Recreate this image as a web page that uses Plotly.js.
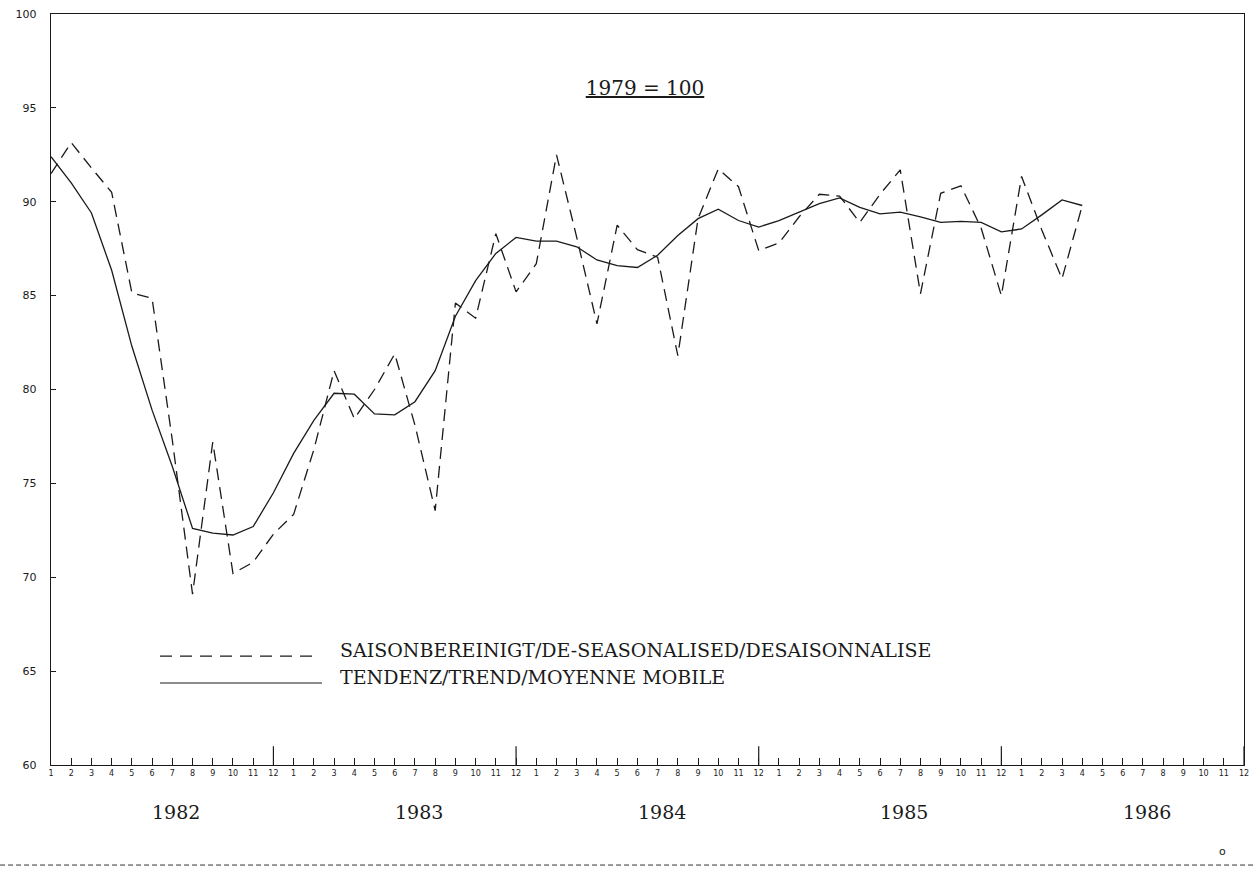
<!DOCTYPE html>
<html>
<head>
<meta charset="utf-8">
<script src="https://cdn.plot.ly/plotly-3.0.1.min.js"></script>
<style>
  html, body { margin: 0; padding: 0; background: #ffffff; }
  #chart { width: 1256px; height: 870px; }
</style>
</head>
<body>
<div id="chart"></div>
<script>
// Tick labels: months of each year 1982-1986
const years = ["1982", "1983", "1984", "1985", "1986"];
const monthLabels = ["1","2","3","4","5","6","7","8","9","10","11","12"];

// Seasonally adjusted series (Jan 1982 - Apr 1986), 1979 = 100
const saison = [
  91.5, 93.15, 91.8, 90.5, 85.15, 84.85, 77.3, 69.1, 77.2, 70.2, 70.8, 72.3,
  73.35, 76.8, 81.0, 78.45, 80.0, 81.9, 78.1, 73.55, 84.6, 83.8, 88.3, 85.2,
  86.7, 92.5, 88.1, 83.5, 88.75, 87.45, 87.05, 81.8, 89.1, 91.75, 90.8, 87.4,
  87.8, 89.2, 90.4, 90.3, 88.9, 90.4, 91.7, 85.1, 90.45, 90.85, 88.6, 85.0,
  91.35, 88.5, 85.9, 89.8
];

// Trend / moving average
const trend = [
  92.4, 91.0, 89.4, 86.35, 82.3, 78.9, 75.9, 72.6, 72.35, 72.25, 72.7, 74.5,
  76.6, 78.35, 79.8, 79.75, 78.7, 78.65, 79.35, 81.0, 83.9, 85.8, 87.25, 88.1,
  87.9, 87.9, 87.6, 86.9, 86.6, 86.5, 87.15, 88.2, 89.1, 89.6, 89.0, 88.65,
  89.0, 89.45, 89.9, 90.2, 89.7, 89.35, 89.45, 89.2, 88.9, 88.95, 88.9, 88.4,
  88.55, 89.3, 90.1, 89.8
];

const seriesNames = [
  "SAISONBEREINIGT/DE-SEASONALISED/DESAISONNALISE",
  "TENDENZ/TREND/MOYENNE MOBILE"
];
const titleText = "1979 = 100";

// derived axis positions (month index along the time axis)
const tickVals = [];
const tickText = [];
years.forEach((y, yi) => monthLabels.forEach((m, mi) => {
  tickVals.push(yi * 12 + mi);
  tickText.push(m);
}));
const xs = arr => arr.map((_, i) => i);

const ink = "#1a1a1a";
const serif = "DejaVu Serif, Liberation Serif, serif";

const traces = [
  {
    x: xs(saison), y: saison, type: "scatter", mode: "lines",
    name: seriesNames[0],
    line: { color: ink, width: 1.3, dash: "12px,7px" },
    hoverinfo: "x+y"
  },
  {
    x: xs(trend), y: trend, type: "scatter", mode: "lines",
    name: seriesNames[1],
    line: { color: ink, width: 1.3 },
    hoverinfo: "x+y"
  }
];

const shapes = [];
// long ticks at each December
years.forEach((y, yi) => {
  const xi = yi * 12 + 11;
  shapes.push({ type: "line", xref: "x", yref: "paper", x0: xi, x1: xi, y0: 0, y1: 0.025,
    line: { color: ink, width: 1.2 } });
});
// legend samples
shapes.push({ type: "line", xref: "paper", yref: "paper", x0: 0.0914, x1: 0.2238, y0: 0.1451, y1: 0.1451,
  line: { color: ink, width: 1.2, dash: "12px,8px" } });
shapes.push({ type: "line", xref: "paper", yref: "paper", x0: 0.0914, x1: 0.2272, y0: 0.1092, y1: 0.1092,
  line: { color: ink, width: 1.2 } });
// page border at bottom
shapes.push({ type: "line", xref: "paper", yref: "paper", x0: -0.0427, x1: 1.0101, y0: -0.1332, y1: -0.1332,
  line: { color: "#333", width: 1, dash: "5px,3px" } });

const annotations = [
  { xref: "paper", yref: "paper", x: 0.2406, y: 0.1531, xanchor: "left", yanchor: "middle",
    text: seriesNames[0], showarrow: false, font: { family: serif, size: 19, color: ink } },
  { xref: "paper", yref: "paper", x: 0.2406, y: 0.1172, xanchor: "left", yanchor: "middle",
    text: seriesNames[1], showarrow: false, font: { family: serif, size: 19, color: ink } },
  { xref: "paper", yref: "paper", x: 0.9816, y: -0.1158, xanchor: "center", yanchor: "middle",
    text: "o", showarrow: false, font: { family: "DejaVu Sans", size: 11, color: ink } }
];
years.forEach((y, yi) => {
  annotations.push({ xref: "x", yref: "paper", x: yi * 12 + 6.2, y: -0.0626,
    xanchor: "center", yanchor: "middle", text: y, showarrow: false,
    font: { family: serif, size: 19, color: ink } });
});

const layout = {
  width: 1256, height: 870,
  margin: { l: 51, r: 12, t: 14, b: 105 },
  paper_bgcolor: "#ffffff", plot_bgcolor: "#ffffff",
  showlegend: false,
  title: { text: "<u>" + titleText + "</u>", x: 645 / 1256, y: 1 - 88 / 870,
    xanchor: "center", yanchor: "middle", font: { family: serif, size: 20, color: ink } },
  xaxis: {
    range: [0, 59], tickvals: tickVals, ticktext: tickText, tickangle: 0,
    ticks: "inside", ticklen: 7, tickwidth: 1, tickcolor: ink,
    showline: true, linecolor: ink, linewidth: 1.2, mirror: true,
    showgrid: false, zeroline: false,
    tickfont: { family: "DejaVu Sans", size: 8, color: ink }
  },
  yaxis: {
    range: [60, 100], tickvals: [60, 65, 70, 75, 80, 85, 90, 95, 100],
    ticks: "inside", ticklen: 5, tickwidth: 1, tickcolor: ink,
    showline: true, linecolor: ink, linewidth: 1.2, mirror: true,
    showgrid: false, zeroline: false, ticklabelstandoff: 11,
    tickfont: { family: "DejaVu Sans", size: 11, color: ink }
  },
  shapes: shapes,
  annotations: annotations
};

Plotly.newPlot("chart", traces, layout, { displayModeBar: false, staticPlot: true });
</script>
</body>
</html>
